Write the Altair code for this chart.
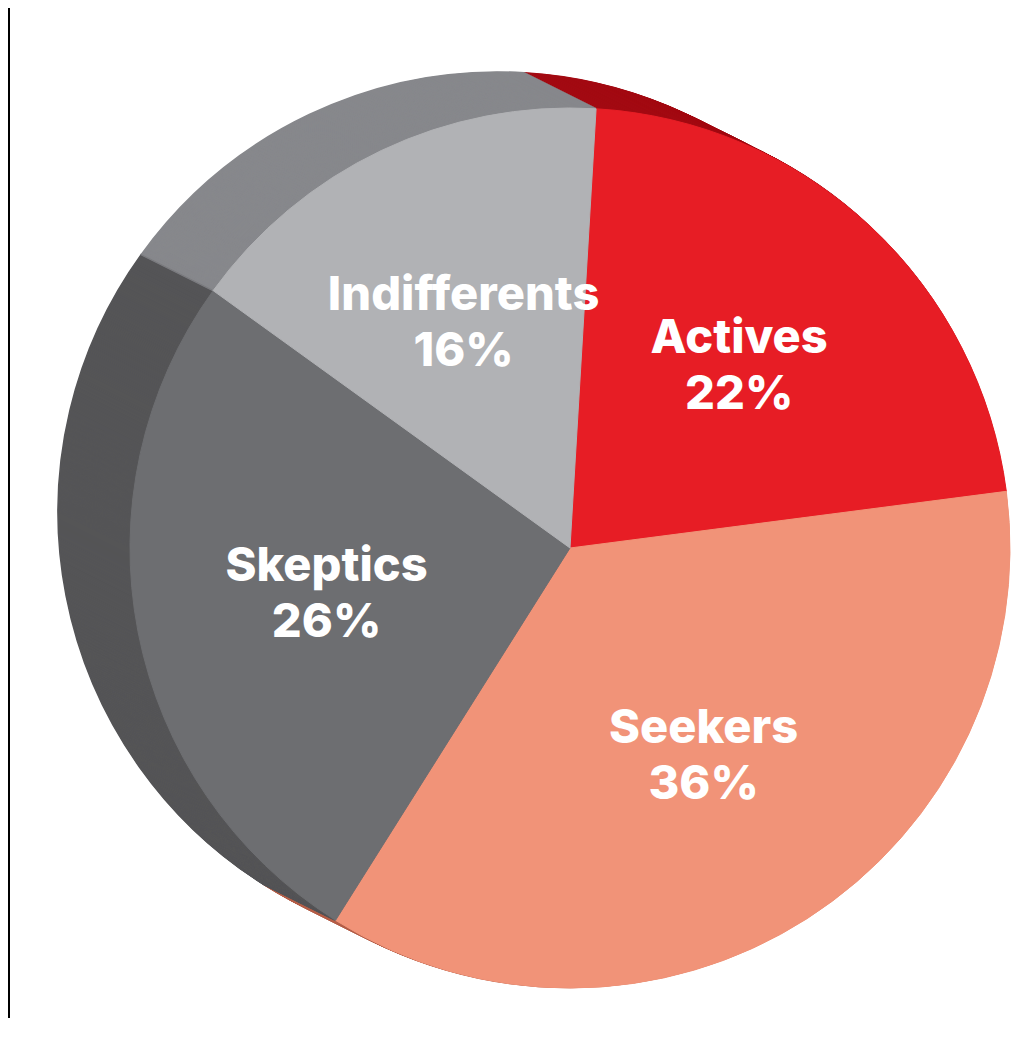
import math
import altair as alt
import pandas as pd

# ---- data ----
categories = ["Actives", "Seekers", "Skeptics", "Indifferents"]
shares = [22, 36, 26, 16]
front_colors = ["#e71d25", "#f19378", "#6d6e71", "#b1b2b5"]
side_colors = ["#a30b13", "#b5604a", "#555557", "#87888c"]

# ---- layout ----
W, H = 1010, 1010
CX, CY = 562, 540          # centre of the front face
R = 440                    # pie radius
DX, DY = -72, -36          # depth of the extrusion (towards the back)
N = 72                     # number of extrusion slices
START = math.radians(3.4)  # angle of the first slice edge (clockwise from 12 o'clock)
LABEL_R = 248
FONT = "Inter"
FS = 47
LINE_OFF = 28

base = pd.DataFrame({"cat": categories, "share": shares, "order": list(range(len(categories)))})
side_df = pd.concat([base.assign(step=s) for s in range(N)], ignore_index=True)

theta_scale = alt.Scale(domain=[0, 100], range=[START, START + 2 * math.pi])
side_color = alt.Scale(domain=categories, range=side_colors)
front_color = alt.Scale(domain=categories, range=front_colors)

bar = alt.Chart(pd.DataFrame({"k": [0]})).mark_rect(color="black").encode(
    x=alt.value(0), x2=alt.value(2), y=alt.value(0), y2=alt.value(H)
)

side = (
    alt.Chart(side_df)
    .transform_stack(stack="share", groupby=["step"], as_=["t0", "t1"],
                     sort=[alt.SortField("order")])
    .mark_arc(radius=R, strokeWidth=1.5)
    .encode(
        x=alt.X("step:Q", axis=None,
                scale=alt.Scale(domain=[0, N], range=[CX + DX, CX], nice=False, zero=False)),
        y=alt.Y("step:Q", axis=None,
                scale=alt.Scale(domain=[0, N], range=[CY + DY, CY], nice=False, zero=False)),
        theta=alt.Theta("t0:Q", scale=theta_scale),
        theta2="t1:Q",
        color=alt.Color("cat:N", scale=side_color, legend=None),
        stroke=alt.Stroke("cat:N", scale=side_color, legend=None),
    )
)

front = (
    alt.Chart(base)
    .transform_stack(stack="share", groupby=[], as_=["t0", "t1"],
                     sort=[alt.SortField("order")])
    .mark_arc(radius=R, strokeWidth=1)
    .encode(
        x=alt.value(CX), y=alt.value(CY),
        theta=alt.Theta("t0:Q", scale=theta_scale),
        theta2="t1:Q",
        color=alt.Color("cat:N", scale=front_color, legend=None),
        stroke=alt.Stroke("cat:N", scale=front_color, legend=None),
    )
)

lab_base = (
    alt.Chart(base)
    .transform_stack(stack="share", groupby=[], as_=["t0", "t1"],
                     sort=[alt.SortField("order")])
    .transform_calculate(mid="(datum.t0 + datum.t1) / 2", pct="datum.share + '%'")
)
name_text = lab_base.mark_text(
    radius=LABEL_R, dy=-LINE_OFF, font=FONT, fontSize=FS, fontWeight=800,
    color="white", align="center", baseline="middle"
).encode(x=alt.value(CX), y=alt.value(CY),
         theta=alt.Theta("mid:Q", scale=theta_scale), text="cat:N")
pct_text = lab_base.mark_text(
    radius=LABEL_R, dy=LINE_OFF, font=FONT, fontSize=FS, fontWeight=800,
    color="white", align="center", baseline="middle"
).encode(x=alt.value(CX), y=alt.value(CY),
         theta=alt.Theta("mid:Q", scale=theta_scale), text="pct:N")

chart = (
    alt.layer(bar, side, front, name_text, pct_text)
    .resolve_scale(color="independent", stroke="independent")
    .properties(width=W, height=H, autosize="none", padding=0, background="white")
    .configure_view(stroke=None)
)

chart.save("out.html", embed_options={"renderer": "svg", "actions": False})
